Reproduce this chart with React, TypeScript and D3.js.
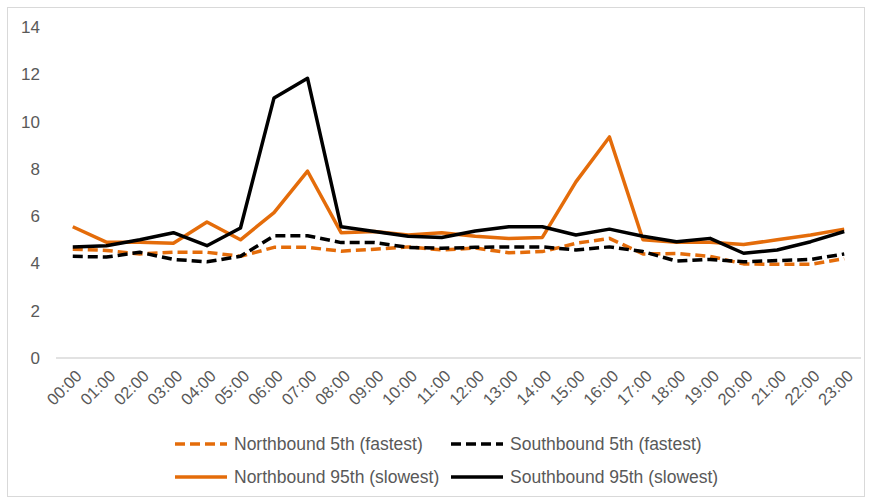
import React from "react";
import * as d3 from "d3";

const hours = ["00:00","01:00","02:00","03:00","04:00","05:00","06:00","07:00","08:00","09:00","10:00","11:00","12:00","13:00","14:00","15:00","16:00","17:00","18:00","19:00","20:00","21:00","22:00","23:00"];
const nb5 = [4.6,4.55,4.4,4.47,4.47,4.3,4.68,4.68,4.52,4.6,4.7,4.57,4.65,4.45,4.5,4.85,5.06,4.4,4.42,4.3,3.98,3.96,3.96,4.2];
const sb5 = [4.3,4.27,4.47,4.17,4.07,4.3,5.17,5.17,4.88,4.88,4.68,4.64,4.68,4.7,4.7,4.57,4.7,4.5,4.1,4.17,4.07,4.12,4.17,4.4];
const nb95 = [5.55,4.9,4.9,4.85,5.75,5.0,6.15,7.9,5.3,5.35,5.2,5.3,5.15,5.05,5.1,7.45,9.35,5.0,4.9,4.9,4.8,5.0,5.2,5.45];
const sb95 = [4.7,4.75,5.0,5.3,4.75,5.5,11.0,11.83,5.55,5.35,5.15,5.1,5.37,5.55,5.55,5.2,5.45,5.15,4.92,5.06,4.43,4.57,4.92,5.35];
const yTicks = [0,2,4,6,8,10,12,14];

const ORANGE = "#E46C0A";
const BLACK = "#000000";

const seriesList = [
  { name: "Northbound 5th (fastest)", values: nb5, color: ORANGE, dashed: true },
  { name: "Southbound 5th (fastest)", values: sb5, color: BLACK, dashed: true },
  { name: "Northbound 95th (slowest)", values: nb95, color: ORANGE, dashed: false },
  { name: "Southbound 95th (slowest)", values: sb95, color: BLACK, dashed: false },
];

export default function App() {
  const W = 871, H = 500;
  const x = d3.scaleBand<string>().domain(hours).range([56, 861]);
  const y = d3.scaleLinear().domain([0, 14]).range([358, 27]);
  const line = d3.line<number>()
    .x((_, i) => (x(hours[i]) as number) + x.bandwidth() / 2)
    .y((v) => y(v));
  const font = "'Liberation Sans', Arial, sans-serif";
  const legendPos = [
    { lx: 175, ly: 444 },
    { lx: 451, ly: 444 },
    { lx: 175, ly: 477 },
    { lx: 451, ly: 477 },
  ];
  return (
    <svg width={W} height={H} style={{ position: "absolute", left: 0, top: 0 }}>
      <rect x={0} y={0} width={W} height={H} fill="#fff" />
      <rect x={7.5} y={7.5} width={857} height={489} fill="none" stroke="#d9d9d9" strokeWidth={1} />
      <line x1={56} x2={861} y1={y(0)} y2={y(0)} stroke="#d9d9d9" strokeWidth={1.5} />
      {yTicks.map((t) => (
        <text key={t} x={40} y={y(t)} dy="0.35em" textAnchor="end" fontFamily={font} fontSize={17} fill="#595959">{t}</text>
      ))}
      {hours.map((h) => {
        const cx = (x(h) as number) + x.bandwidth() / 2;
        return (
          <text key={h} transform={`translate(${cx + 6},${373}) rotate(-45)`} textAnchor="end" dy="0.35em" fontFamily={font} fontSize={16.5} fill="#595959">{h}</text>
        );
      })}
      {seriesList.map((s) => (
        <path key={s.name} d={line(s.values) as string} fill="none" stroke={s.color} strokeWidth={3.5}
          strokeDasharray={s.dashed ? "10,5" : undefined} strokeLinejoin="round" />
      ))}
      {seriesList.map((s, i) => (
        <g key={s.name}>
          <line x1={legendPos[i].lx} x2={legendPos[i].lx + 52} y1={legendPos[i].ly} y2={legendPos[i].ly}
            stroke={s.color} strokeWidth={3.5} strokeDasharray={s.dashed ? "10,5" : undefined} />
          <text x={legendPos[i].lx + 59} y={legendPos[i].ly} dy="0.35em" fontFamily={font} fontSize={17.5} fill="#595959">{s.name}</text>
        </g>
      ))}
    </svg>
  );
}
